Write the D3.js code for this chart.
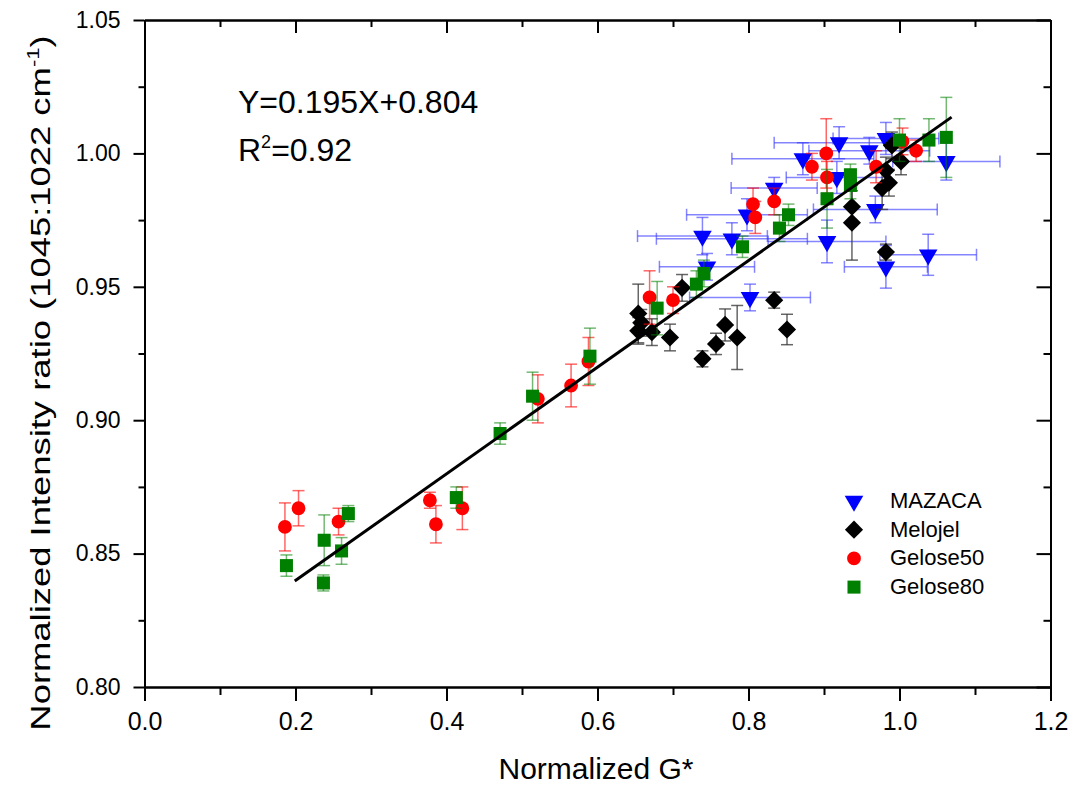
<!DOCTYPE html>
<html>
<head>
<meta charset="utf-8">
<script src="https://cdn.jsdelivr.net/npm/d3@7"></script>
<style>
  body { margin: 0; background: #fff; }
  text { font-family: "Liberation Sans", Arial, sans-serif; fill: #000; }
</style>
</head>
<body>
<div id="chart"></div>
<script>
// MAZACA (blue down triangles) - x and y error bars
const mazacaX    = [0.920, 0.872, 0.917, 0.834, 0.798, 0.739, 0.778, 0.904, 0.745, 0.802, 0.960, 0.982, 1.062, 0.968, 0.982, 1.038];
const mazacaY    = [1.004, 0.998, 0.991, 0.987, 0.977, 0.969, 0.968, 0.967, 0.9575, 0.946, 1.001, 1.0056, 0.997, 0.979, 0.9575, 0.962];
const mazacaXErr = [0.086, 0.094, 0.067, 0.057, 0.080, 0.086, 0.100, 0.078, 0.063, 0.080, 0.080, 0.070, 0.071, 0.082, 0.055, 0.064];
const mazacaYErr = [0.006, 0.006, 0.006, 0.004, 0.006, 0.007, 0.006, 0.008, 0.005, 0.005, 0.005, 0.006, 0.007, 0.005, 0.008, 0.0077];

// Melojel (black diamonds)
const melojelX    = [0.654, 0.658, 0.654, 0.672, 0.696, 0.712, 0.739, 0.757, 0.769, 0.785, 0.834, 0.851, 0.937, 0.937, 0.982, 0.986, 0.977, 0.982, 0.990, 1.002];
const melojelY    = [0.940, 0.9365, 0.9335, 0.933, 0.931, 0.9496, 0.923, 0.9286, 0.9357, 0.931, 0.945, 0.934, 0.980, 0.974, 0.9936, 0.989, 0.987, 0.963, 1.003, 0.997];
const melojelYErr = [0.011, 0.005, 0.005, 0.005, 0.005, 0.005, 0.003, 0.004, 0.006, 0.012, 0.003, 0.0057, 0.006, 0.014, 0.005, 0.005, 0.008, 0.003, 0.005, 0.005];

// Gelose50 (red circles)
const gelose50X    = [0.186, 0.204, 0.257, 0.378, 0.386, 0.421, 0.521, 0.565, 0.588, 0.669, 0.700, 0.806, 0.809, 0.834, 0.884, 0.903, 0.904, 0.969, 1.004, 1.022];
const gelose50Y    = [0.860, 0.867, 0.862, 0.870, 0.861, 0.867, 0.908, 0.913, 0.922, 0.946, 0.945, 0.981, 0.976, 0.982, 0.995, 1.000, 0.991, 0.995, 1.0045, 1.001];
const gelose50YErr = [0.009, 0.0066, 0.005, 0.003, 0.007, 0.008, 0.009, 0.008, 0.009, 0.010, 0.005, 0.006, 0.006, 0.005, 0.005, 0.013, 0.006, 0.006, 0.005, 0.004];

// Gelose80 (green squares)
const gelose80X    = [0.188, 0.238, 0.237, 0.261, 0.270, 0.413, 0.471, 0.514, 0.590, 0.679, 0.731, 0.741, 0.792, 0.841, 0.853, 0.904, 0.935, 0.935, 1.000, 1.039, 1.062];
const gelose80Y    = [0.8455, 0.855, 0.839, 0.851, 0.865, 0.871, 0.895, 0.909, 0.924, 0.942, 0.951, 0.955, 0.965, 0.972, 0.977, 0.983, 0.992, 0.988, 1.005, 1.005, 1.006];
const gelose80YErr = [0.004, 0.0095, 0.003, 0.005, 0.003, 0.004, 0.004, 0.009, 0.0105, 0.010, 0.005, 0.005, 0.004, 0.005, 0.004, 0.011, 0.004, 0.005, 0.008, 0.008, 0.015];

// linear fit line as drawn
const fitX = [0.199, 1.069];
const fitY = [0.8397, 1.0136];

const xMajor = [0.0, 0.2, 0.4, 0.6, 0.8, 1.0, 1.2];
const xMinor = [0.1, 0.3, 0.5, 0.7, 0.9, 1.1];
const yMajor = [0.80, 0.85, 0.90, 0.95, 1.00, 1.05];
const yMinor = [0.825, 0.875, 0.925, 0.975, 1.025];

const seriesNames = ["MAZACA", "Melojel", "Gelose50", "Gelose80"];

const W = 1086, H = 788;
const pLeft = 144.5, pRight = 1050.5, pTop = 20, pBottom = 687;

const svg = d3.select("#chart").append("svg")
    .attr("width", W).attr("height", H);

const x = d3.scaleLinear().domain([0, 1.2]).range([pLeft, pRight]);
const y = d3.scaleLinear().domain([0.80, 1.05]).range([pBottom, pTop]);

function styleAxis(g) {
    g.select(".domain").attr("stroke", "#000").attr("stroke-width", 2);
    g.selectAll(".tick line").attr("stroke", "#000").attr("stroke-width", 2);
}

// bottom
svg.append("g").attr("transform", `translate(0,${pBottom})`)
   .call(d3.axisBottom(x).tickValues(xMajor).tickSize(14).tickSizeOuter(0).tickFormat(d3.format(".1f")))
   .call(styleAxis)
   .call(g => g.selectAll("text").attr("y", 43).attr("dy", 0)
        .style("font-size", "25px").style("font-family", "Liberation Sans, Arial"));
svg.append("g").attr("transform", `translate(0,${pBottom})`)
   .call(d3.axisBottom(x).tickValues(xMinor).tickSize(8).tickSizeOuter(0).tickFormat(""))
   .call(styleAxis);

// top (ticks inward)
svg.append("g").attr("transform", `translate(0,${pTop})`)
   .call(d3.axisTop(x).tickValues(xMajor).tickSize(-13).tickSizeOuter(0).tickFormat(""))
   .call(styleAxis);
svg.append("g").attr("transform", `translate(0,${pTop})`)
   .call(d3.axisTop(x).tickValues(xMinor).tickSize(-7).tickSizeOuter(0).tickFormat(""))
   .call(styleAxis);

// left
svg.append("g").attr("transform", `translate(${pLeft},0)`)
   .call(d3.axisLeft(y).tickValues(yMajor).tickSize(11).tickSizeOuter(0).tickFormat(d3.format(".2f")))
   .call(styleAxis)
   .call(g => g.selectAll("text").attr("x", -24)
        .style("font-size", "23px").style("font-family", "Liberation Sans, Arial"));
svg.append("g").attr("transform", `translate(${pLeft},0)`)
   .call(d3.axisLeft(y).tickValues(yMinor).tickSize(6).tickSizeOuter(0).tickFormat(""))
   .call(styleAxis);

// right (ticks inward)
svg.append("g").attr("transform", `translate(${pRight},0)`)
   .call(d3.axisRight(y).tickValues(yMajor).tickSize(-14).tickSizeOuter(0).tickFormat(""))
   .call(styleAxis);
svg.append("g").attr("transform", `translate(${pRight},0)`)
   .call(d3.axisRight(y).tickValues(yMinor).tickSize(-7).tickSizeOuter(0).tickFormat(""))
   .call(styleAxis);

// axis titles
svg.append("text")
   .attr("x", 596).attr("y", 779)
   .attr("text-anchor", "middle")
   .style("font-size", "30px")
   .text("Normalized G*");

const yTitle = svg.append("text")
   .attr("transform", "translate(50,383) rotate(-90) scale(1.3,1)")
   .attr("text-anchor", "middle")
   .style("font-size", "28px");
yTitle.append("tspan").text("Normalized Intensity ratio (1045:1022 cm");
yTitle.append("tspan").attr("dy", -11).style("font-size", "17px").text("-1");
yTitle.append("tspan").attr("dy", 11).text(")");

// fit equation
svg.append("text").attr("x", 238).attr("y", 113).style("font-size", "32px")
   .text("Y=0.195X+0.804");
const r2 = svg.append("text").attr("x", 238).attr("y", 161).style("font-size", "32px");
r2.append("tspan").text("R");
r2.append("tspan").attr("dy", -13).style("font-size", "18px").text("2");
r2.append("tspan").attr("dy", 13).text("=0.92");

// helpers
const triangle = d3.symbol().type(d3.symbolTriangle).size(150)();
const diamond = d3.symbol().type(d3.symbolSquare).size(165)();
const circle = d3.symbol().type(d3.symbolCircle).size(150)();
const square = d3.symbol().type(d3.symbolSquare).size(170)();

function drawSeries(xs, ys, yErr, xErr, opts) {
    const pts = xs.map((v, i) => ({ x: v, y: ys[i], ye: yErr[i], xe: xErr ? xErr[i] : 0 }));
    const g = svg.append("g");
    const eb = g.append("g")
        .attr("stroke", opts.errColor)
        .attr("stroke-opacity", opts.errOpacity)
        .attr("stroke-width", 1.5)
        .attr("fill", "none");
    const cap = 6;
    pts.forEach(d => {
        eb.append("line").attr("x1", x(d.x)).attr("x2", x(d.x)).attr("y1", y(d.y - d.ye)).attr("y2", y(d.y + d.ye));
        eb.append("line").attr("x1", x(d.x) - cap).attr("x2", x(d.x) + cap).attr("y1", y(d.y - d.ye)).attr("y2", y(d.y - d.ye));
        eb.append("line").attr("x1", x(d.x) - cap).attr("x2", x(d.x) + cap).attr("y1", y(d.y + d.ye)).attr("y2", y(d.y + d.ye));
        if (d.xe) {
            eb.append("line").attr("x1", x(d.x - d.xe)).attr("x2", x(d.x + d.xe)).attr("y1", y(d.y)).attr("y2", y(d.y));
            eb.append("line").attr("x1", x(d.x - d.xe)).attr("x2", x(d.x - d.xe)).attr("y1", y(d.y) - cap).attr("y2", y(d.y) + cap);
            eb.append("line").attr("x1", x(d.x + d.xe)).attr("x2", x(d.x + d.xe)).attr("y1", y(d.y) - cap).attr("y2", y(d.y) + cap);
        }
    });
    g.selectAll("path.m")
     .data(pts)
     .enter().append("path")
     .attr("class", "m")
     .attr("d", opts.symbol)
     .attr("transform", d => `translate(${x(d.x)},${y(d.y)}) rotate(${opts.rotate})`)
     .attr("fill", opts.color);
}

const styles = [
    { color: "#0000ff", errColor: "#3333ff", errOpacity: 0.6, symbol: triangle, rotate: 180 },
    { color: "#000000", errColor: "#333333", errOpacity: 0.75, symbol: diamond, rotate: 45 },
    { color: "#ff0000", errColor: "#ff0000", errOpacity: 0.6, symbol: circle, rotate: 0 },
    { color: "#008000", errColor: "#008000", errOpacity: 0.55, symbol: square, rotate: 0 }
];

drawSeries(mazacaX, mazacaY, mazacaYErr, mazacaXErr, styles[0]);
drawSeries(melojelX, melojelY, melojelYErr, null, styles[1]);
drawSeries(gelose50X, gelose50Y, gelose50YErr, null, styles[2]);
drawSeries(gelose80X, gelose80Y, gelose80YErr, null, styles[3]);

// fit line
svg.append("path")
   .datum(fitX.map((v, i) => [v, fitY[i]]))
   .attr("d", d3.line().x(d => x(d[0])).y(d => y(d[1])))
   .attr("stroke", "#000").attr("stroke-width", 3).attr("fill", "none");

// legend
const legend = svg.append("g").attr("transform", "translate(854,501)");
seriesNames.forEach((name, i) => {
    const row = legend.append("g").attr("transform", `translate(0,${i * 28.7})`);
    row.append("path")
       .attr("d", styles[i].symbol)
       .attr("transform", `rotate(${styles[i].rotate})`)
       .attr("fill", styles[i].color);
    row.append("text")
       .attr("x", 36).attr("y", 7)
       .style("font-size", "22px")
       .text(name);
});
</script>
</body>
</html>
